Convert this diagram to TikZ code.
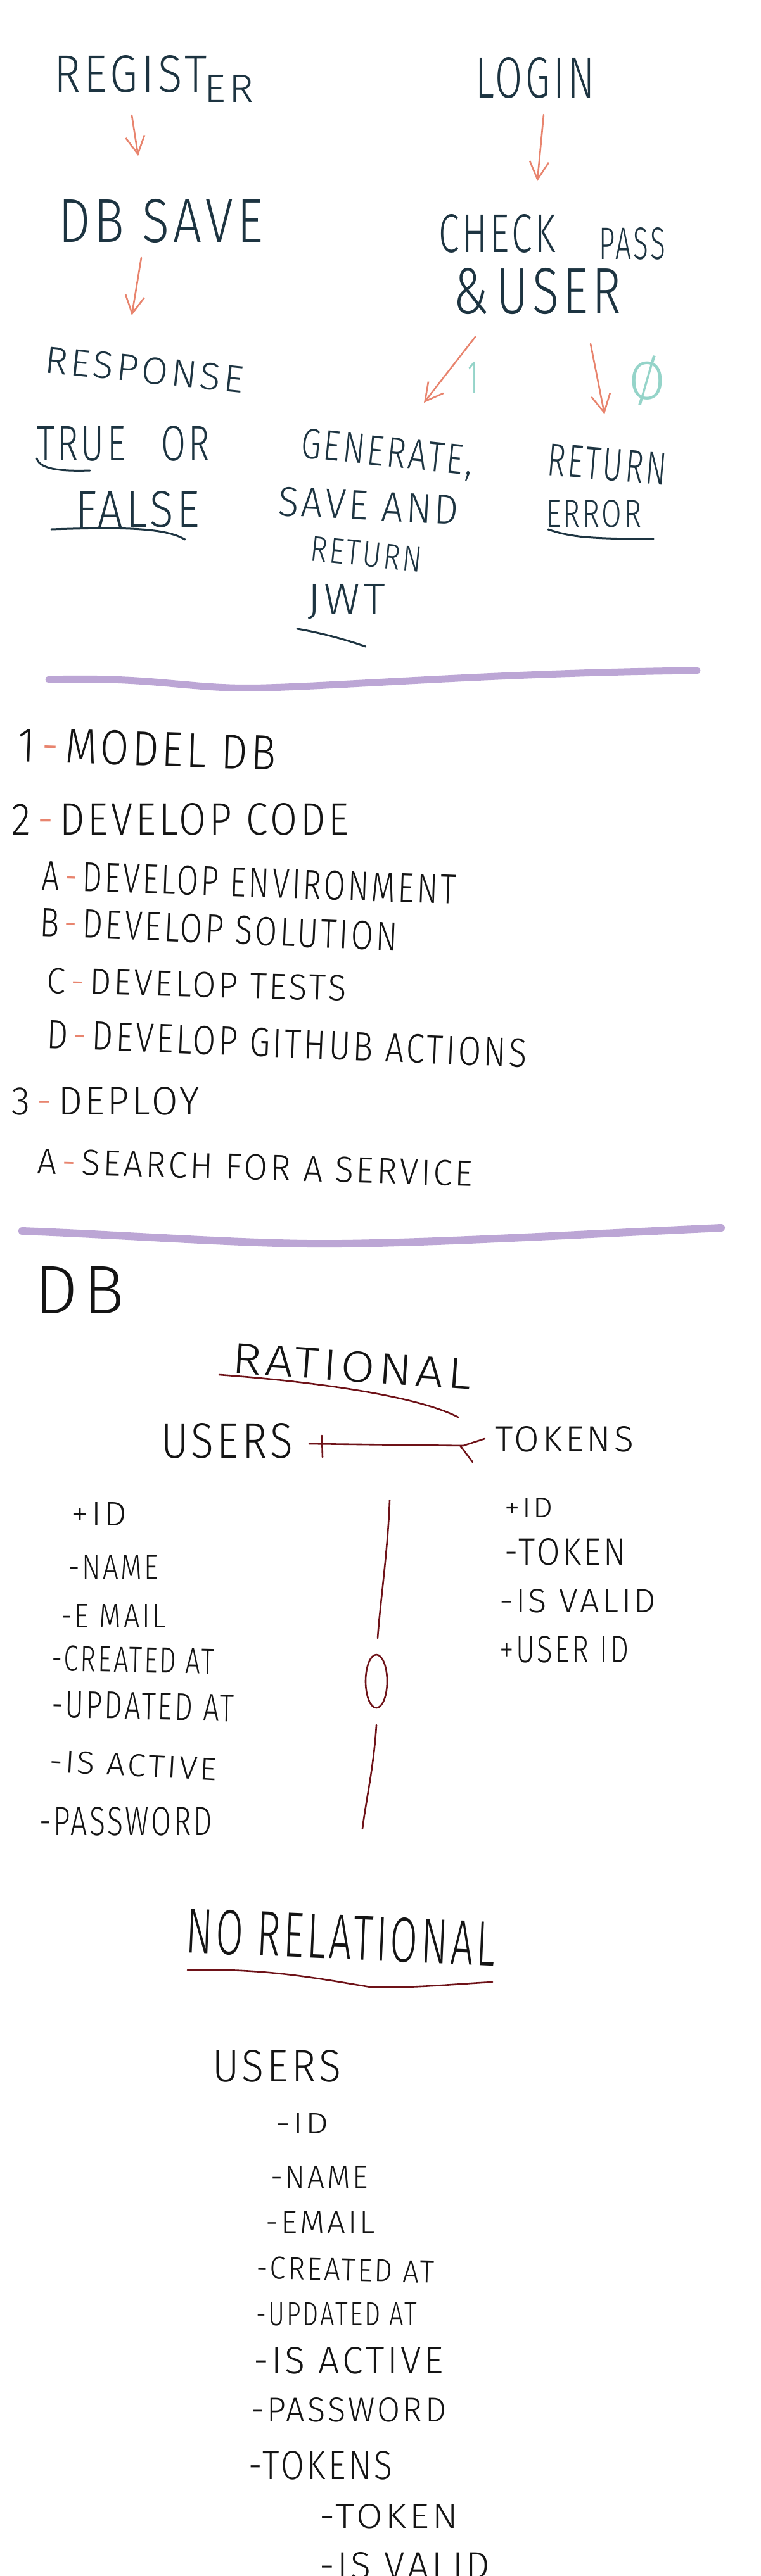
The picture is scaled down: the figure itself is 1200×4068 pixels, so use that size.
\documentclass[tikz,border=0pt]{standalone}
\usepackage{fontspec}
\IfFontExistsTF{Fira Sans Light}{\setmainfont{Fira Sans Light}[LetterSpace=8]}{\setmainfont{Fira Sans}[LetterSpace=8]}
\usepackage{graphicx}
\usetikzlibrary{arrows.meta}
\definecolor{inka}{HTML}{1D3441}
\definecolor{inkb}{HTML}{141414}
\definecolor{arrowc}{HTML}{E8846E}
\definecolor{tealc}{HTML}{95D4C9}
\definecolor{purplec}{HTML}{BCA6D5}
\definecolor{redc}{HTML}{6E1218}
\newcommand{\hw}[3]{\resizebox{#1pt}{#2pt}{#3}}
\begin{document}
\begin{tikzpicture}[x=1pt,y=-1pt,
 txt/.style={inner sep=0pt,outer sep=0pt,anchor=base west,text=inka},
 txtb/.style={txt,text=inkb},
 arr/.style={draw=arrowc,line width=2.6pt,line cap=round,-{Straight Barb[length=28pt,width=30pt,line width=2.6pt]}},
 uline/.style={draw=inka,line width=3pt,line cap=round},
 wave/.style={draw=purplec,line width=11pt,line cap=round},
 erline/.style={draw=redc,line width=2.6pt,line cap=round}]
\useasboundingbox[fill=white] (0,0) rectangle (1200,4068);

% ---------- top flow ----------
\node[txt] (regist) at (85,146) {\hw{242}{58}{REGIST}};
\node[txt] (er) at (322,161) {\hw{78}{43}{ER}};
\node[txt] (login) at (750,154) {\hw{188}{64}{LOGIN}};
\node[txt] (dbsave) at (92,382) {\hw{323}{68}{DB SAVE}};
\node[txt] (check) at (692,398) {\hw{185}{60}{CHECK}};
\node[txt] (pass) at (945,409) {\hw{105}{50}{PASS}};
\node[txt] (user) at (715,495) {\hw{265}{72}{\&\,USER}};
\node[txt,rotate=-6] (response) at (69,588) {\hw{315}{42}{RESPONSE}};
\node[txt] (trueor) at (58,727) {\hw{273}{55}{TRUE\quad OR}};
\node[txt] (false) at (119,832) {\hw{196}{57}{FALSE}};
\node[txt,rotate=-6] (generate) at (473,722) {\hw{272}{47}{GENERATE,}};
\node[txt,rotate=-3] (saveand) at (438,814) {\hw{285}{46}{SAVE AND}};
\node[txt,rotate=-6] (returnc) at (488,885) {\hw{177}{39}{RETURN}};
\node[txt] (jwt) at (485,970) {\hw{123}{48}{JWT}};
\node[txt,rotate=-5] (returnr) at (862,750) {\hw{188}{50}{RETURN}};
\node[txt] (error) at (862,832) {\hw{150}{43}{ERROR}};
\node[txt,text=tealc] (one) at (738,621) {\hw{16}{50}{1}};
\node[txt,text=tealc] (zero) at (992,630) {\hw{58}{69}{Ø}};

\coordinate (a1s) at (208,182); \coordinate (a1e) at (218,246);
\coordinate (a2s) at (223,407); \coordinate (a2e) at (208,498);
\coordinate (a3s) at (858,181); \coordinate (a3e) at (848,286);
\coordinate (a4s) at (750,532); \coordinate (a4e) at (669,636);
\coordinate (a5s) at (932,543); \coordinate (a5e) at (954,654);
\draw[arr] (a1s) -- (a1e);
\draw[arr] (a2s) -- (a2e);
\draw[arr] (a3s) -- (a3e);
\draw[arr] (a4s) -- (a4e);
\draw[arr] (a5s) -- (a5e);

\draw[uline] (58,724) .. controls (62,738) and (85,745) .. (142,743);
\draw[uline] (81,836) .. controls (200,832) and (262,834) .. (292,852);
\draw[uline] (469,993) .. controls (500,998) and (540,1008) .. (577,1021);
\draw[uline] (865,836) .. controls (900,848) and (930,851) .. (1031,851);

\draw[wave] (77,1073) .. controls (250,1068) and (300,1090) .. (420,1086) .. controls (560,1082) and (800,1062) .. (1100,1059);

% ---------- list ----------
\node[txtb,rotate=-2] (l1) at (27,1202) {\hw{408}{54}{1\,\textcolor{arrowc}{-}\,MODEL DB}};
\node[txtb] (l2) at (19,1318) {\hw{531}{50}{2\,\textcolor{arrowc}{-}\,DEVELOP CODE}};
\node[txtb,rotate=-2] (l2a) at (65,1405) {\hw{654}{46}{A\,\textcolor{arrowc}{-}\,DEVELOP ENVIRONMENT}};
\node[txtb,rotate=-2.4] (l2b) at (62,1478) {\hw{565}{45}{B\,\textcolor{arrowc}{-}\,DEVELOP SOLUTION}};
\node[txtb,rotate=-1.5] (l2c) at (73,1568) {\hw{473}{40}{C\,\textcolor{arrowc}{-}\,DEVELOP TESTS}};
\node[txtb,rotate=-2.3] (l2d) at (73,1655) {\hw{758}{45}{D\,\textcolor{arrowc}{-}\,DEVELOP GITHUB ACTIONS}};
\node[txtb] (l3) at (19,1760) {\hw{296}{44}{3\,\textcolor{arrowc}{-}\,DEPLOY}};
\node[txtb,rotate=-1.7] (l3a) at (58,1853) {\hw{688}{40}{A\,\textcolor{arrowc}{-}\,SEARCH FOR A SERVICE}};

\draw[wave,line width=12pt] (35,1944) .. controls (200,1950) and (400,1966) .. (538,1964) .. controls (700,1962) and (900,1950) .. (1138,1939);

% ---------- DB relational ----------
\node[txtb] (db) at (54,2074) {\hw{142}{74}{DB}};
\node[txtb,rotate=-4] (rational) at (365,2168) {\hw{378}{48}{RATIONAL}};
\draw[erline] (346,2171) .. controls (500,2182) and (660,2205) .. (723,2238);
\node[txtb] (users) at (254,2302) {\hw{208}{55}{USERS}};
\node[txtb] (tokens) at (781,2292) {\hw{219}{40}{TOKENS}};
\coordinate (erA) at (488,2280);
\coordinate (erM) at (731,2283);
\coordinate (erB) at (765,2272);
\coordinate (erC) at (746,2309);
\draw[erline] (erA) -- (erM) -- (erB);
\draw[erline] (727,2284) -- (erC);
\draw[erline] (508,2267) -- (509,2301);

\node[txtb] (uid) at (112,2409) {\hw{88}{37}{+ID}};
\node[txtb] (uname) at (108,2493) {\hw{142}{37}{-NAME}};
\node[txtb] (uemail) at (96,2570) {\hw{166}{37}{-E MAIL}};
\node[txtb,rotate=-1.3] (ucreated) at (81,2638) {\hw{257}{40}{-CREATED AT}};
\node[txtb,rotate=-1.3] (uupdated) at (81,2712) {\hw{288}{42}{-UPDATED AT}};
\node[txtb,rotate=-3] (uactive) at (77,2798) {\hw{265}{35}{-IS ACTIVE}};
\node[txtb] (upass) at (62,2898) {\hw{273}{45}{-PASSWORD}};

\node[txtb] (tid) at (796,2396) {\hw{77}{31}{+ID}};
\node[txtb] (ttoken) at (796,2471) {\hw{192}{42}{-TOKEN}};
\node[txtb] (tvalid) at (788,2546) {\hw{247}{37}{-IS VALID}};
\node[txtb] (tuser) at (788,2625) {\hw{204}{42}{+USER ID}};

\draw[erline] (615,2369) .. controls (612,2450) and (600,2530) .. (596,2587);
\draw[erline] (594,2655) ellipse [x radius=17pt, y radius=42pt];
\draw[erline] (594,2724) .. controls (590,2790) and (578,2840) .. (572,2888);

% ---------- no relational ----------
\node[txtb,rotate=-2.5] (norel) at (292,3083) {\hw{489}{70}{NO RELATIONAL}};
\draw[erline] (296,3111) .. controls (420,3108) and (500,3124) .. (585,3138) .. controls (650,3140) and (720,3133) .. (777,3130);
\node[txtb] (nusers) at (335,3287) {\hw{203}{50}{USERS}};
\node[txtb] (nid) at (435,3369) {\hw{84}{32}{-ID}};
\node[txtb] (nname) at (427,3455) {\hw{154}{35}{-NAME}};
\node[txtb] (nemail) at (419,3526) {\hw{173}{34}{-EMAIL}};
\node[txtb,rotate=-1.5] (ncreated) at (404,3598) {\hw{281}{35}{-CREATED AT}};
\node[txtb] (nupdated) at (404,3672) {\hw{254}{36}{-UPDATED AT}};
\node[txtb] (nactive) at (400,3748) {\hw{300}{42}{-IS ACTIVE}};
\node[txtb] (npass) at (396,3824) {\hw{308}{38}{-PASSWORD}};
\node[txtb] (ntokens) at (392,3915) {\hw{227}{45}{-TOKENS}};
\node[txtb] (ntoken) at (504,3992) {\hw{219}{38}{-TOKEN}};
\node[txtb] (nvalid) at (504,4072) {\hw{269}{42}{-IS VALID}};
\end{tikzpicture}
\end{document}
